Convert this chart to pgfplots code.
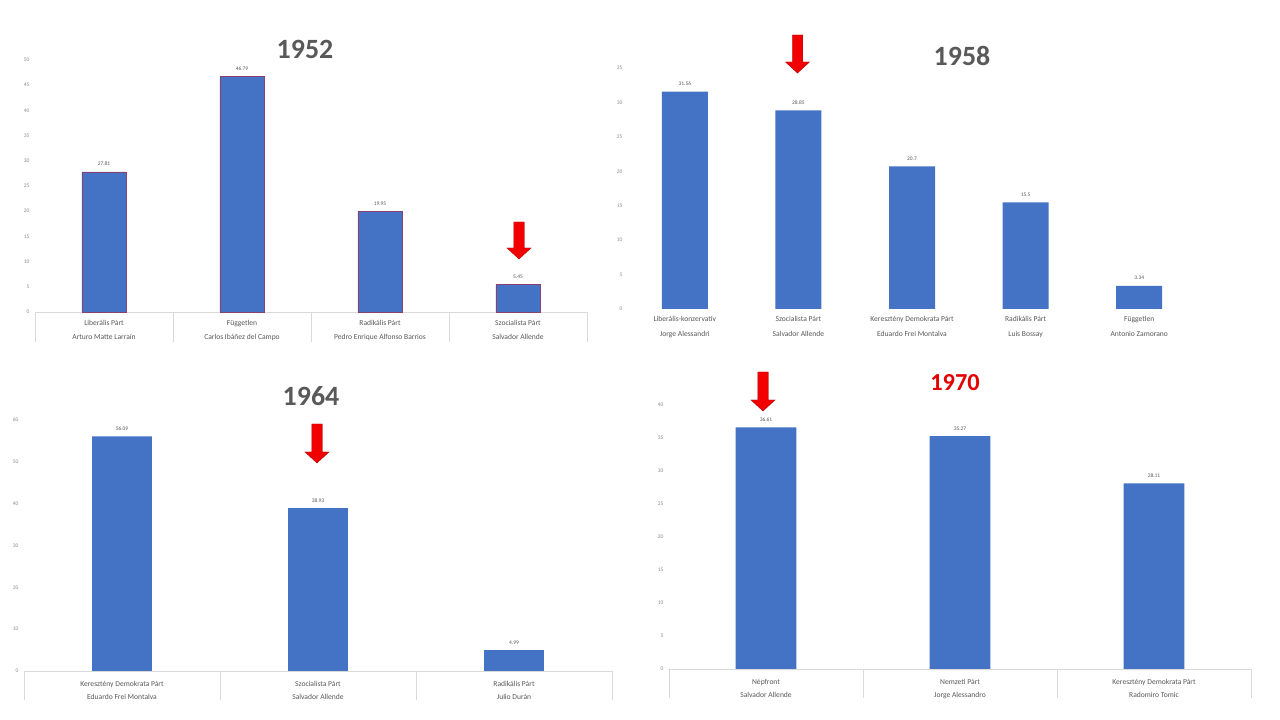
\documentclass[border=0pt]{standalone}
\usepackage{pgfplots}
\pgfplotsset{compat=1.18}
\usepackage{fontspec}
\setmainfont{Carlito}
\definecolor{barblue}{HTML}{4472C4}
\definecolor{txtgray}{HTML}{595959}
\definecolor{ticgray}{HTML}{8C8C8C}
\definecolor{linegray}{HTML}{D9D9D9}
\definecolor{bordred}{HTML}{874272}
\definecolor{titlered}{HTML}{E30000}
\definecolor{arrowred}{HTML}{F20000}
\definecolor{arrowdark}{HTML}{B00000}

\pgfplotsset{
  elect/.style={
    scale only axis, anchor=south west, clip=false,
    ybar, ymin=0, enlargelimits=false,
    axis line style={draw=none}, major tick length=0pt, tick style={draw=none},
    /pgf/number format/assume math mode=true,
    yticklabel style={font=\fontsize{5.5}{6}\selectfont, text=ticgray, xshift=-2bp},
    xticklabel style={font=\fontsize{7.6}{14}\selectfont, text=txtgray, align=center, anchor=north},
    nodes near coords,
    nodes near coords style={font=\fontsize{5.5}{6}\selectfont, text=txtgray, yshift=2.5bp},
  }
}

\newcommand{\arrowdown}[3]{%
  \fill[arrowred, draw=arrowdark, line width=0.4bp]
    ({#1-5.25},{720-#2}) -- ({#1+5.25},{720-#2}) -- ({#1+5.25},{720-#3+11}) --
    ({#1+12},{720-#3+11}) -- ({#1},{720-#3}) -- ({#1-12},{720-#3+11}) --
    ({#1-5.25},{720-#3+11}) -- cycle;}

\begin{document}
\begin{tikzpicture}[x=1bp,y=1bp]
\fill[white] (0,0) rectangle (1280,720);

% ---- grid/divider lines
\draw[linegray, line width=0.6bp] (35,408) -- (587,408);
\foreach \xx in {35,173,311,449,587} \draw[linegray, line width=0.6bp] (\xx,408) -- (\xx,378);
\draw[linegray, line width=0.6bp] (24,49) -- (612,49);
\foreach \xx in {24,220,416,612} \draw[linegray, line width=0.6bp] (\xx,49) -- (\xx,20);
\draw[linegray, line width=0.6bp] (669,51) -- (1251,51);
\foreach \xx in {669,863,1057,1251} \draw[linegray, line width=0.6bp] (\xx,51) -- (\xx,22);

% ---- 1952
\begin{axis}[elect, at={(35bp,408bp)}, width=552bp, height=252bp,
  xmin=-0.5, xmax=3.5, ymax=50, ytick={0,5,...,50},
  xtick={0,1,2,3}, bar width=0.32,
  xticklabel style={yshift=-5bp},
  xticklabels={{Liberális Párt\\Arturo Matte Larraín},{Független\\Carlos Ibáñez del Campo},{Radikális Párt\\Pedro Enrique Alfonso Barrios},{Szocialista Párt\\Salvador Allende}}]
\addplot[fill=barblue, draw=bordred, line width=0.45bp] coordinates {(0,27.81) (1,46.79) (2,19.95) (3,5.45)};
\end{axis}

% ---- 1958
\begin{axis}[elect, at={(628bp,411bp)}, width=568bp, height=241bp,
  xmin=-0.5, xmax=4.5, ymax=35, ytick={0,5,...,35},
  xtick={0,1,2,3,4}, bar width=0.405,
  xticklabel style={yshift=-4bp, font=\fontsize{7.6}{15}\selectfont},
  xticklabels={{Liberális-konzervatív\\Jorge Alessandri},{Szocialista Párt\\Salvador Allende},{Keresztény Demokrata Párt\\Eduardo Frei Montalva},{Radikális Párt\\Luis Bossay},{Független\\Antonio Zamorano}}]
\addplot[fill=barblue, draw=none] coordinates {(0,31.56) (1,28.85) (2,20.7) (3,15.5) (4,3.34)};
\end{axis}

% ---- 1964
\begin{axis}[elect, at={(24bp,49bp)}, width=588bp, height=251bp,
  xmin=-0.5, xmax=2.5, ymax=60, ytick={0,10,...,60},
  xtick={0,1,2}, bar width=0.306,
  xticklabel style={yshift=-7bp, font=\fontsize{7.6}{13}\selectfont},
  xticklabels={{Keresztény Demokrata Párt\\Eduardo Frei Montalva},{Szocialista Párt\\Salvador Allende},{Radikális Párt\\Julio Durán}}]
\addplot[fill=barblue, draw=none] coordinates {(0,56.09) (1,38.93) (2,4.99)};
\end{axis}

% ---- 1970
\begin{axis}[elect, at={(669bp,51bp)}, width=582bp, height=264bp,
  xmin=-0.5, xmax=2.5, ymax=40, ytick={0,5,...,40},
  xtick={0,1,2}, bar width=0.314,
  xticklabel style={yshift=-7bp, font=\fontsize{7.6}{13}\selectfont},
  xticklabels={{Népfront\\Salvador Allende},{Nemzeti Párt\\Jorge Alessandro},{Keresztény Demokrata Párt\\Radomiro Tomic}}]
\addplot[fill=barblue, draw=none] coordinates {(0,36.61) (1,35.27) (2,28.11)};
\end{axis}

% ---- titles
\node[font=\fontsize{28}{30}\selectfont\bfseries, text=txtgray] at (305,671) {1952};
\node[font=\fontsize{28}{30}\selectfont\bfseries, text=txtgray] at (962,664) {1958};
\node[font=\fontsize{28}{30}\selectfont\bfseries, text=txtgray] at (311,324) {1964};
\node[font=\fontsize{24.5}{26}\selectfont\bfseries, text=titlered] at (955,337) {1970};

% ---- arrows
\arrowdown{519}{222}{259}
\arrowdown{797.5}{35}{73}
\arrowdown{317}{424}{463}
\arrowdown{763}{372}{411}
\end{tikzpicture}
\end{document}
